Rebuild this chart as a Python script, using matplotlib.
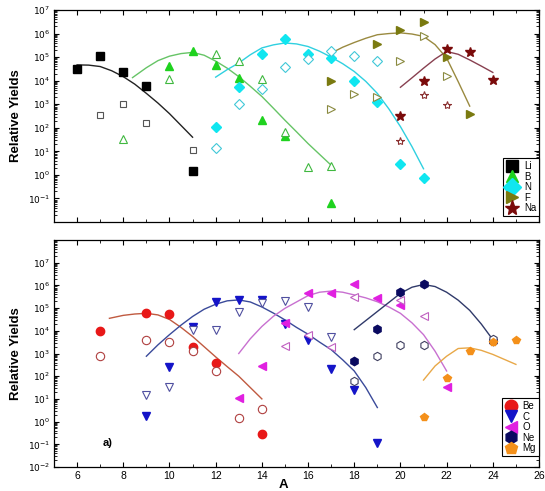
import numpy as np
import matplotlib
matplotlib.use("Agg")
import matplotlib.pyplot as plt
from matplotlib.lines import Line2D
from matplotlib.ticker import FixedLocator, LogLocator, MultipleLocator, NullFormatter

plt.rcParams['font.family'] = ['Liberation Sans', 'DejaVu Sans']

# ---------------- data (log10 of relative yield) ----------------
# top panel
li_A = [6, 7, 8, 9, 11]
li_f = [4.49, 5.03, 4.36, 3.77, 0.17]
li_oA = [7, 8, 9, 11]
li_o = [2.53, 3.03, 2.21, 1.06]
li_fitA = [6, 6.5, 7, 7.5, 8, 8.5, 9, 9.5, 10, 10.5, 11]
li_fit = [4.67, 4.66, 4.6, 4.42, 4.17, 3.85, 3.46, 3.05, 2.6, 2.1, 1.6]

b_A = [10, 11, 12, 13, 14, 15, 17]
b_f = [4.62, 5.28, 4.66, 4.13, 2.35, 1.64, -1.21]
b_oA = [8, 10, 12, 13, 14, 15, 16, 17]
b_o = [1.54, 4.07, 5.12, 4.84, 4.07, 1.82, 0.35, 0.37]
b_fitA = [8.4, 9, 9.5, 10, 10.5, 11, 11.5, 12, 12.5, 13, 13.5, 14, 14.5, 15, 15.5, 16, 16.5, 17]
b_fit = [4.13, 4.55, 4.85, 5.04, 5.15, 5.2, 5.08, 4.83, 4.53, 4.17, 3.76, 3.33, 2.83, 2.32, 1.83, 1.33, 0.87, 0.41]

n_A = [12, 13, 14, 15, 16, 17, 18, 19, 20, 21]
n_f = [2.02, 3.74, 5.12, 5.78, 5.12, 4.96, 3.99, 3.08, 0.48, -0.12]
n_oA = [12, 13, 14, 15, 16, 17, 18, 19]
n_o = [1.13, 3.03, 3.63, 4.56, 4.92, 5.24, 5.06, 4.83]
n_fitA = [12, 12.5, 13, 13.5, 14, 14.5, 15, 15.5, 16, 16.5, 17, 17.5, 18, 18.5, 19, 19.5, 20, 20.5, 21]
n_fit = [4.15, 4.47, 4.75, 5.1, 5.39, 5.52, 5.6, 5.56, 5.45, 5.25, 5.0, 4.72, 4.39, 3.97, 3.46, 2.8, 2.05, 1.2, 0.26]

f_A = [17, 19, 20, 21, 22, 23]
f_f = [3.99, 5.55, 6.17, 6.48, 5.0, 2.6]
f_oA = [17, 18, 19, 20, 21, 22]
f_o = [2.78, 3.43, 3.32, 4.84, 5.88, 4.2]
f_fitA = [17, 17.5, 18, 18.5, 19, 19.5, 20, 20.5, 21, 21.5, 22, 22.5, 23]
f_fit = [5.17, 5.42, 5.62, 5.8, 5.95, 6.0, 6.03, 5.98, 5.88, 5.53, 4.96, 3.96, 2.92]

na_A = [20, 21, 22, 23, 24]
na_f = [2.49, 3.99, 5.36, 5.23, 4.03]
na_oA = [20, 21, 22]
na_o = [1.45, 3.39, 2.96]
na_fitA = [20, 20.5, 21, 21.5, 22, 22.5, 23, 23.5, 24]
na_fit = [3.72, 4.12, 4.53, 4.92, 5.24, 5.12, 4.88, 4.62, 4.35]

# bottom panel
be_A = [7, 9, 10, 11, 12, 14]
be_f = [4.0, 4.77, 4.73, 3.28, 2.56, -0.54]
be_oA = [7, 9, 10, 11, 12, 13, 14]
be_o = [2.91, 3.58, 3.49, 3.1, 2.23, 0.14, 0.55]
be_fitA = [7.4, 8, 8.5, 9, 9.5, 10, 10.5, 11, 11.5, 12, 12.5, 13, 13.5, 14]
be_fit = [4.55, 4.68, 4.74, 4.77, 4.7, 4.5, 4.15, 3.75, 3.3, 2.85, 2.42, 2.0, 1.5, 1.0]

c_A = [9, 10, 11, 12, 13, 14, 15, 16, 17, 18, 19]
c_f = [0.26, 2.4, 4.15, 5.25, 5.36, 5.36, 4.31, 3.61, 2.3, 1.38, -0.93]
c_oA = [9, 10, 11, 12, 13, 14, 15, 16, 17]
c_o = [1.17, 1.54, 4.02, 4.02, 4.82, 5.24, 5.31, 5.07, 3.71]
c_fitA = [9, 9.5, 10, 10.5, 11, 11.5, 12, 12.5, 13, 13.5, 14, 14.5, 15, 15.5, 16, 16.5, 17, 17.5, 18, 18.5, 19]
c_fit = [2.88, 3.38, 3.83, 4.25, 4.63, 4.95, 5.17, 5.32, 5.36, 5.27, 5.05, 4.78, 4.48, 4.15, 3.85, 3.5, 3.17, 2.72, 2.23, 1.5, 0.62]

o_A = [13, 14, 15, 16, 17, 18, 19, 20, 22]
o_f = [1.06, 2.45, 4.34, 5.68, 5.68, 6.04, 5.46, 5.14, 1.53]
o_oA = [15, 16, 17, 18, 20, 21]
o_o = [3.32, 3.8, 3.28, 5.5, 5.36, 4.66]
o_fitA = [13, 13.5, 14, 14.5, 15, 15.5, 16, 16.5, 17, 17.5, 18, 18.5, 19, 19.5, 20, 20.5, 21, 21.5, 22]
o_fit = [3.0, 3.65, 4.19, 4.64, 4.99, 5.27, 5.55, 5.7, 5.75, 5.7, 5.58, 5.45, 5.28, 5.05, 4.77, 4.35, 3.83, 3.1, 2.23]

ne_A = [18, 19, 20, 21, 24]
ne_f = [2.69, 4.09, 5.72, 6.04, 3.54]
ne_oA = [18, 19, 20, 21, 24]
ne_o = [1.79, 2.88, 3.39, 3.36, 3.66]
ne_fitA = [18, 18.5, 19, 19.5, 20, 20.5, 21, 21.5, 22, 22.5, 23, 23.5, 24]
ne_fit = [4.05, 4.45, 4.85, 5.25, 5.65, 5.92, 6.04, 5.95, 5.7, 5.35, 4.9, 4.3, 3.61]

mg_A = [21, 22, 23, 24, 25]
mg_f = [0.22, 1.93, 3.1, 3.51, 3.61]
mg_fitA = [21, 21.5, 22, 22.5, 23, 23.5, 24, 24.5, 25]
mg_fit = [1.83, 2.45, 2.88, 3.22, 3.25, 3.14, 2.96, 2.74, 2.52]

top_labels = ['Li', 'B', 'N', 'F', 'Na']
bot_labels = ['Be', 'C', 'O', 'Ne', 'Mg']

# ---------------- figure ----------------
W, H = 545, 491
fig = plt.figure(figsize=(W / 100, H / 100), dpi=100)

def frac_axes(l, t, r, b):
    return fig.add_axes([l / W, 1 - b / H, (r - l) / W, (b - t) / H])

ax1 = frac_axes(54, 10, 539, 222)
ax2 = frac_axes(54, 240, 539, 467)

def v(a):
    return 10 ** np.asarray(a, dtype=float)

def series(ax, A, f, oA, o, fA, fit, marker, fc, oc, lc, ms=6, oms=6):
    ax.plot(fA, v(fit), '-', color=lc, lw=1.0, zorder=2)
    if A:
        ax.plot(A, v(f), linestyle='none', marker=marker, ms=ms, mfc=fc, mec=fc, zorder=3)
    if oA:
        ax.plot(oA, v(o), linestyle='none', marker=marker, ms=oms, mfc='white', mec=oc, mew=0.8, zorder=3)

# top panel
series(ax1, li_A, li_f, li_oA, li_o, li_fitA, li_fit, 's', '#000000', '#555555', '#222222', ms=5.5, oms=5)
series(ax1, b_A, b_f, b_oA, b_o, b_fitA, b_fit, '^', '#1fd21f', '#40b840', '#66c466')
series(ax1, n_A, n_f, n_oA, n_o, n_fitA, n_fit, 'D', '#10e6f0', '#40c8d8', '#30d0e0', ms=5.5, oms=5.5)
series(ax1, f_A, f_f, f_oA, f_o, f_fitA, f_fit, '>', '#7a7a10', '#8a8a40', '#9a8a40')
series(ax1, na_A, na_f, na_oA, na_o, na_fitA, na_fit, '*', '#7a0a0a', '#8a3030', '#884050', ms=7, oms=6)

# bottom panel
series(ax2, be_A, be_f, be_oA, be_o, be_fitA, be_fit, 'o', '#e81818', '#b04040', '#c05a40')
series(ax2, c_A, c_f, c_oA, c_o, c_fitA, c_fit, 'v', '#1414c8', '#5050a0', '#3a4a9a')
series(ax2, o_A, o_f, o_oA, o_o, o_fitA, o_fit, '<', '#e020e0', '#c060c0', '#c870d0')
series(ax2, ne_A, ne_f, ne_oA, ne_o, ne_fitA, ne_fit, 'h', '#0a0a60', '#404060', '#303a6a')
series(ax2, mg_A, mg_f, [], [], mg_fitA, mg_fit, 'p', '#f4901a', '#f4901a', '#e8a848')

for ax, ylo, yhi, lab_exps in [(ax1, 1e-2, 1e7, range(-1, 8)), (ax2, 1e-2, 1e8, range(-2, 8))]:
    ax.set_yscale('log')
    ax.set_ylim(ylo, yhi)
    ax.set_xlim(5, 26)
    exps = list(lab_exps)
    ax.yaxis.set_major_locator(FixedLocator([10.0 ** e for e in exps]))
    ax.set_yticklabels([r'$10^{%d}$' % e for e in exps])
    ax.yaxis.set_minor_locator(LogLocator(base=10, subs=np.arange(2, 10), numticks=20))
    ax.yaxis.set_minor_formatter(NullFormatter())
    ax.xaxis.set_major_locator(MultipleLocator(2))
    ax.xaxis.set_minor_locator(MultipleLocator(1))
    ax.tick_params(which='both', direction='in', top=True, right=True, labelsize=6.5, pad=3)
    ax.tick_params(which='major', length=3.5, width=0.8)
    ax.tick_params(which='minor', length=2, width=0.6)
    for s in ax.spines.values():
        s.set_linewidth(0.9)
    ax.set_ylabel('Relative Yields', fontsize=9.5, fontweight='bold', labelpad=4)

ax1.set_xticklabels([])
ax2.tick_params(axis='x', labelsize=7.5)
ax2.set_xlabel('A', fontsize=9.5, fontweight='bold', labelpad=1)
ax2.xaxis.set_label_coords((283 - 54) / 485, -0.055)
ax2.text(7.1, 10 ** -0.96, 'a)', fontsize=8, fontweight='bold', va='center')

def make_legend(ax, labels, markers, colors, anchor_y):
    handles = [Line2D([], [], linestyle='none', marker=m, ms=9 if m != '*' else 11,
                      mfc=c, mec=c) for m, c in zip(markers, colors)]
    leg = ax.legend(handles, labels, loc='lower right', bbox_to_anchor=(1.0, anchor_y),
                    borderaxespad=0, fontsize=7, frameon=True, fancybox=False,
                    framealpha=1, edgecolor='black', handlelength=1.2, handletextpad=0.6,
                    labelspacing=0.05, borderpad=0.3)
    leg.get_frame().set_linewidth(0.8)

make_legend(ax1, top_labels, ['s', '^', 'D', '>', '*'],
            ['#000000', '#1fd21f', '#10e6f0', '#7a7a10', '#7a0a0a'], 0.028)
make_legend(ax2, bot_labels, ['o', 'v', '<', 'h', 'p'],
            ['#e81818', '#1414c8', '#e020e0', '#0a0a60', '#f4901a'], 0.048)

fig.savefig('out.png', dpi=100)
